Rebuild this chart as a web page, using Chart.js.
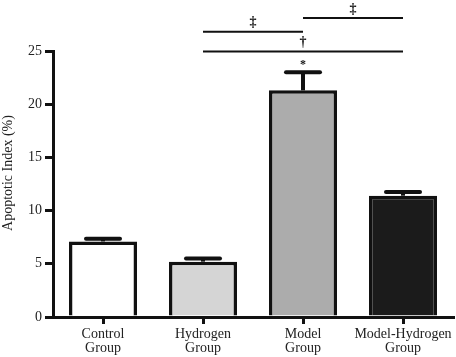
<!DOCTYPE html>
<html>
<head>
<meta charset="utf-8">
<script src="https://cdn.jsdelivr.net/npm/chart.js@4"></script>
<style>
  html, body { margin: 0; padding: 0; background: #fff; }
  #wrap { width: 456px; height: 357px; position: relative; }
</style>
</head>
<body>
<div id="wrap"><canvas id="c" width="456" height="357"></canvas></div>
<script>
const categories = [["Control", "Group"], ["Hydrogen", "Group"], ["Model", "Group"], ["Model-Hydrogen", "Group"]];
const apoptoticIndex = [7.1, 5.2, 21.3, 11.4];
const errorTop = [7.35, 5.5, 23.0, 11.75];
const barColors = ["#ffffff", "#d5d5d5", "#acacac", "#1b1b1b"];
const yTicks = [0, 5, 10, 15, 20, 25];
const yTitle = "Apoptotic Index (%)";
// significance brackets: [fromIndex, toIndex, level (data units), symbol]
const brackets = [
  [1, 2, 26.8, "\u2021"],
  [2, 3, 28.1, "\u2021"],
  [1, 3, 24.95, "\u2020"]
];
const starMarks = [[2, "*"]];

const serif = "'Liberation Serif', 'DejaVu Serif', serif";

const errorBarPlugin = {
  id: 'errorBars',
  afterDatasetsDraw(chart) {
    const ctx = chart.ctx;
    const meta = chart.getDatasetMeta(0);
    const y = chart.scales.y;
    ctx.save();
    ctx.strokeStyle = '#111';
    meta.data.forEach((bar, i) => {
      const top = y.getPixelForValue(errorTop[i]);
      const base = y.getPixelForValue(apoptoticIndex[i]);
      ctx.lineWidth = 4;
      ctx.lineCap = 'butt';
      ctx.beginPath();
      ctx.moveTo(bar.x, base);
      ctx.lineTo(bar.x, top);
      ctx.stroke();
      ctx.lineCap = 'round';
      ctx.beginPath();
      ctx.moveTo(bar.x - 17, top);
      ctx.lineTo(bar.x + 17, top);
      ctx.stroke();
    });
    ctx.restore();
  }
};

const annotationPlugin = {
  id: 'sigAnnotations',
  afterDraw(chart) {
    const ctx = chart.ctx;
    const x = chart.scales.x, y = chart.scales.y;
    ctx.save();
    ctx.strokeStyle = '#111';
    ctx.fillStyle = '#111';
    ctx.lineWidth = 2;
    ctx.textAlign = 'center';
    ctx.textBaseline = 'bottom';
    brackets.forEach(([a, b, lvl, sym]) => {
      const x1 = x.getPixelForValue(a), x2 = x.getPixelForValue(b);
      const py = y.getPixelForValue(lvl);
      ctx.beginPath();
      ctx.moveTo(x1, py);
      ctx.lineTo(x2, py);
      ctx.stroke();
      ctx.font = "bold 14px " + serif;
      ctx.fillText(sym, (x1 + x2) / 2, py - 2);
    });
    starMarks.forEach(([i, sym]) => {
      const px = x.getPixelForValue(i);
      const py = y.getPixelForValue(errorTop[i]);
      ctx.font = "bold 12px " + serif;
      ctx.fillText(sym, px, py - 1);
    });
    // y-axis title
    ctx.save();
    ctx.translate(8, 173);
    ctx.rotate(-Math.PI / 2);
    ctx.textBaseline = 'middle';
    ctx.fillStyle = '#222';
    ctx.font = "14px " + serif;
    ctx.fillText(yTitle, 0, 0);
    ctx.restore();
    ctx.restore();
  }
};

new Chart(document.getElementById('c'), {
  type: 'bar',
  data: {
    labels: categories,
    datasets: [{
      data: apoptoticIndex,
      backgroundColor: barColors,
      borderColor: '#111',
      borderWidth: 3.5,
      borderSkipped: 'start',
      categoryPercentage: 1,
      barPercentage: 0.68
    }]
  },
  options: {
    responsive: false,
    animation: false,
    devicePixelRatio: 1,
    layout: { padding: { top: 51, right: 3, left: 0, bottom: 0 } },
    plugins: { legend: { display: false }, tooltip: { enabled: false } },
    scales: {
      x: {
        offset: true,
        grid: { display: true, offset: false, drawOnChartArea: false, drawTicks: true, tickLength: 7, lineWidth: 3, color: '#111' },
        border: { display: true, color: '#111', width: 3 },
        ticks: { color: '#222', padding: 3, font: { family: serif, size: 14, lineHeight: 1.0 }, maxRotation: 0, autoSkip: false },
        afterFit(s) { s.height = 40; }
      },
      y: {
        min: 0, max: 25,
        afterBuildTicks(s) { s.ticks = yTicks.map(v => ({ value: v })); },
        grid: { display: true, drawOnChartArea: false, drawTicks: true, tickLength: 8, lineWidth: 3, color: '#111' },
        border: { display: true, color: '#111', width: 3 },
        ticks: { color: '#222', padding: 3, font: { family: serif, size: 14 } },
        title: { display: false },
        afterFit(s) { s.width = 53; }
      }
    }
  },
  plugins: [errorBarPlugin, annotationPlugin]
});
</script>
</body>
</html>
